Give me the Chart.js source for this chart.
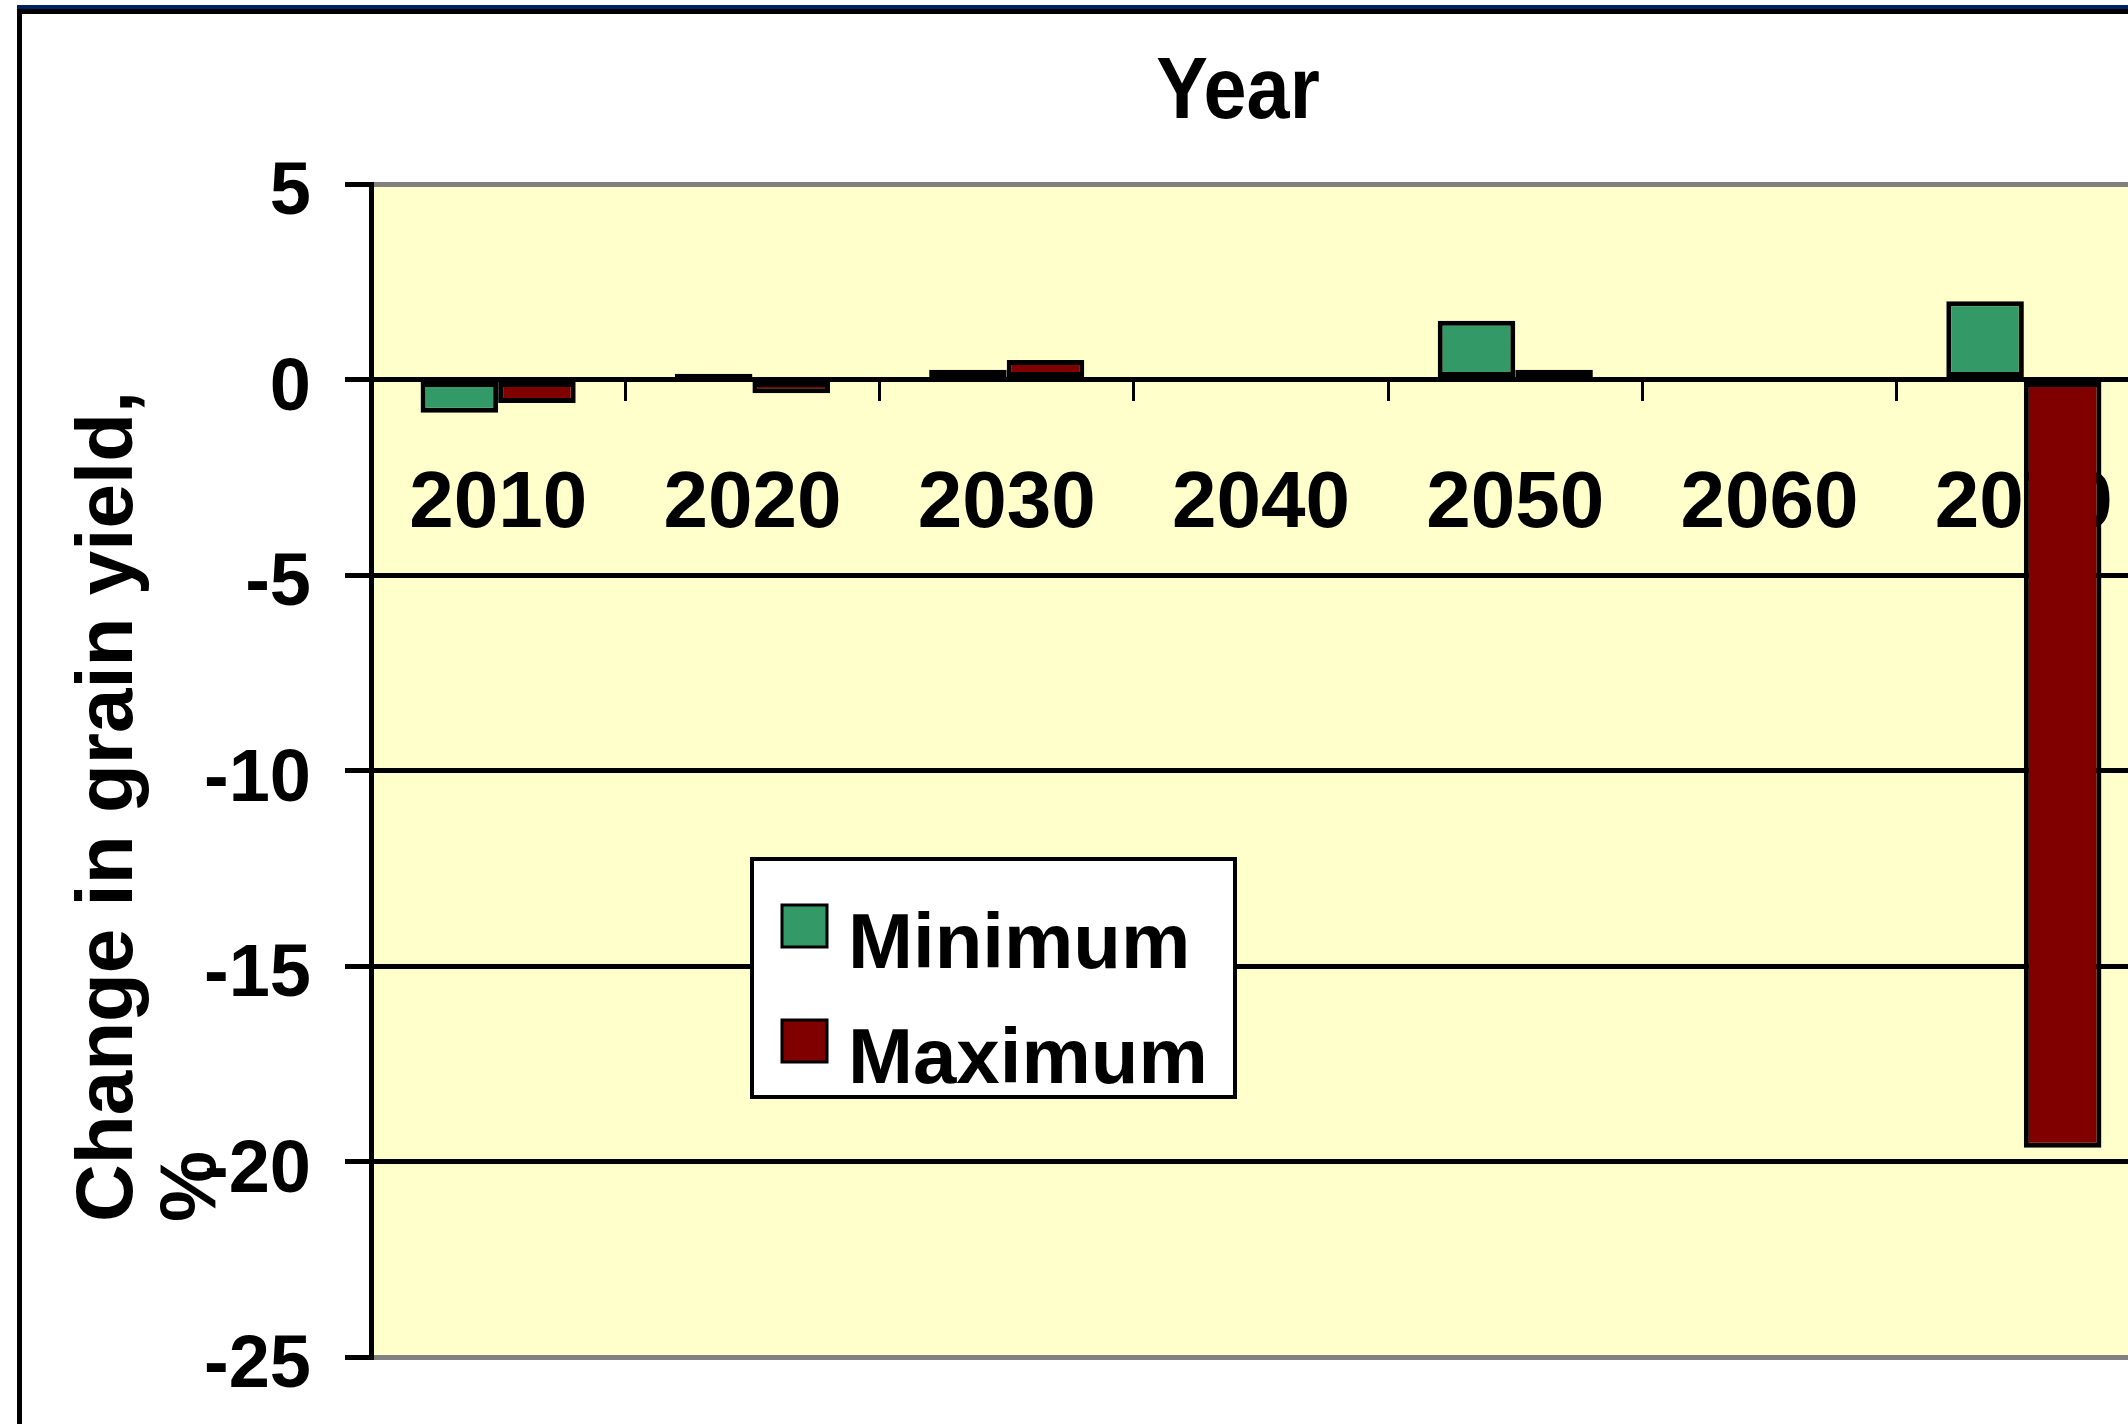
<!DOCTYPE html>
<html>
<head>
<meta charset="utf-8">
<script src="https://cdn.jsdelivr.net/npm/chart.js@4.4.0/dist/chart.umd.min.js"></script>
<style>
html, body { margin: 0; padding: 0; overflow: hidden; background: #fff; width: 2128px; height: 1424px; }
#chart { position: absolute; left: 0; top: 0; }
.bar { position: absolute; z-index: 2; }
#navy { left: 17px; top: 5px; width: 2300px; height: 4px; background: #002060; }
#edgeTop { left: 17px; top: 9px; width: 2300px; height: 5px; background: #000; }
#edgeLeft { left: 17px; top: 9px; width: 5px; height: 1420px; background: #000; }
</style>
</head>
<body>
<canvas id="chart" width="2476" height="1424"></canvas>
<div class="bar" id="navy"></div>
<div class="bar" id="edgeTop"></div>
<div class="bar" id="edgeLeft"></div>
<script>
// values
var years = ["2010", "2020", "2030", "2040", "2050", "2060", "2070"];
var minimum = [-0.85, 0.15, 0.25, 0, 1.5, 0, 2.0];
var maximum = [-0.6, -0.35, 0.5, 0, 0.25, 0, -19.65];
var seriesNames = ["Minimum", "Maximum"];
var seriesColors = ["#339966", "#800000"];
var chartTitle = "Year";
var yTitleLines = ["Change in grain yield,", "%"];

var FONT = "'Liberation Sans', Arial, sans-serif";

var plotBg = {
	id: "plotBg",
	beforeDraw: function(chart) {
		var a = chart.chartArea, ctx = chart.ctx;
		ctx.save();
		ctx.fillStyle = "#FFFFCC";
		ctx.fillRect(a.left, a.top, a.right - a.left, a.bottom - a.top);
		ctx.restore();
	}
};

// title and y title drawn by hand, the plot runs off the right edge
var texts = {
	id: "texts",
	afterDraw: function(chart) {
		var ctx = chart.ctx, a = chart.chartArea;
		ctx.save();
		ctx.fillStyle = "#000";
		ctx.font = "bold 87px " + FONT;
		ctx.textAlign = "center";
		ctx.textBaseline = "middle";
		ctx.translate(a.left + 867, 94);
		ctx.scale(0.89, 1);
		ctx.fillText(chartTitle, 0, 0);
		ctx.restore();

		ctx.save();
		ctx.fillStyle = "#000";
		ctx.translate(0, a.bottom - 135);
		ctx.rotate(-Math.PI / 2);
		ctx.font = "bold 80px " + FONT;
		ctx.textAlign = "left";
		ctx.textBaseline = "alphabetic";
		ctx.fillText(yTitleLines[0], 0, 132);
		ctx.fillText(yTitleLines[1], 0, 215);
		ctx.restore();
	}
};

var legendBox = {
	id: "legendBox",
	afterDraw: function(chart) {
		var ctx = chart.ctx, a = chart.chartArea;
		var x = a.left + 381, y = a.top + 675, w = 483, h = 238;
		ctx.save();
		ctx.fillStyle = "#fff";
		ctx.fillRect(x, y, w, h);
		ctx.lineWidth = 4;
		ctx.strokeStyle = "#000";
		ctx.strokeRect(x, y, w, h);
		ctx.font = "bold 78px " + FONT;
		ctx.textBaseline = "alphabetic";
		chart.data.datasets.forEach(function(ds, i) {
			var sy = y + 46 + i * 115;
			ctx.fillStyle = ds.backgroundColor;
			ctx.fillRect(x + 30, sy, 45, 42);
			ctx.lineWidth = 3;
			ctx.strokeRect(x + 30, sy, 45, 42);
			ctx.fillStyle = "#000";
			ctx.fillText(ds.label, x + 96, y + 109 + i * 115);
		});
		ctx.restore();
	}
};

new Chart(document.getElementById("chart"), {
	type: "bar",
	data: {
		labels: years,
		datasets: [
			{ label: seriesNames[0], data: minimum, backgroundColor: seriesColors[0] },
			{ label: seriesNames[1], data: maximum, backgroundColor: seriesColors[1] }
		]
	},
	options: {
		responsive: false,
		devicePixelRatio: 1,
		animation: false,
		layout: { padding: { left: 0, right: 325, top: 184, bottom: 67 } },
		datasets: {
			bar: {
				categoryPercentage: 0.61,
				barPercentage: 1.0,
				borderColor: "#000",
				borderWidth: 5,
				borderSkipped: false
			}
		},
		plugins: {
			legend: { display: false },
			tooltip: { enabled: false },
			title: { display: false }
		},
		scales: {
			x: {
				type: "category",
				position: { y: 0 },
				z: 1,
				grid: {
					drawOnChartArea: false,
					drawTicks: true,
					tickLength: 19,
					tickColor: "#000",
					tickWidth: 3,
					offset: true
				},
				border: { color: "#000", width: 5 },
				ticks: {
					color: "#000",
					padding: 58,
					font: { family: FONT, size: 80, weight: "bold" }
				}
			},
			y: {
				min: -25,
				max: 5,
				afterFit: function(scale) {
					scale.width = 371;
					scale.paddingTop = 0;
					scale.paddingBottom = 0;
				},
				grid: {
					color: function(c) {
						return (c.tick && (c.tick.value === 5 || c.tick.value === -25)) ? "#808080" : "#000";
					},
					lineWidth: 5,
					tickLength: 26,
					tickColor: "#000",
					tickWidth: 5
				},
				border: { color: "#000", width: 5 },
				ticks: {
					stepSize: 5,
					color: "#000",
					padding: 34,
					labelOffset: 10,
					font: { family: FONT, size: 74, weight: "bold" }
				}
			}
		}
	},
	plugins: [plotBg, texts, legendBox]
});
</script>
</body>
</html>
